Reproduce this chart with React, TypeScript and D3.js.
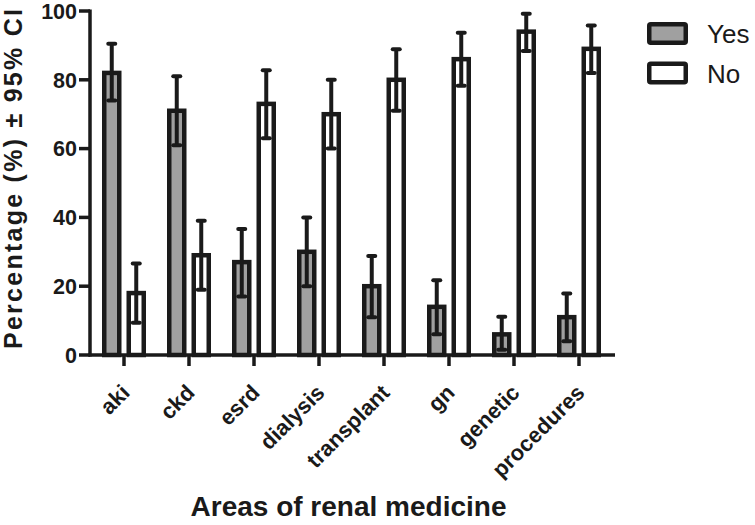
import React from "react";
import * as d3 from "d3";

const categories = ["aki", "ckd", "esrd", "dialysis", "transplant", "gn", "genetic", "procedures"];
const groups = ["Yes", "No"];
const yesValues = [82, 71, 27, 30, 20, 14, 6, 11];
const yesLower = [74, 61, 17, 20, 11, 6, 1.5, 4];
const yesUpper = [90.5, 81, 36.6, 40, 28.8, 21.7, 11.1, 17.9];
const noValues = [18, 29, 73, 70, 80, 86, 94, 89];
const noLower = [9.4, 19, 63, 60, 71, 78.3, 88.4, 82];
const noUpper = [26.6, 39, 82.8, 80, 88.9, 93.7, 99.2, 95.8];
const yTicks = [0, 20, 40, 60, 80, 100];

const W = 755, H = 525;
const ink = "#1a1a1a";
const gray = "#a0a0a0";
const font = "'Liberation Sans', Arial, sans-serif";

export default function App() {
  const y = d3.scaleLinear().domain([0, 100]).range([355, 11]);
  const x0 = d3.scaleBand().domain(categories).range([91.5, 611.5]);
  const x1 = d3.scaleBand().domain(groups).range([-24.5, 24.5]);
  const barW = 15;
  const capW = 7;

  const series = [
    { key: "Yes", fill: gray, values: yesValues, lo: yesLower, hi: yesUpper },
    { key: "No", fill: "#fff", values: noValues, lo: noLower, hi: noUpper },
  ];

  return (
    <svg width={W} height={H} style={{ display: "block", position: "absolute", left: 0, top: 0 }} fontFamily={font}>
      {/* bars + error bars */}
      {series.map((s) =>
        categories.map((c, i) => {
          const cx = x0(c)! + x0.bandwidth() / 2 + x1(s.key)! + x1.bandwidth() / 2;
          return (
            <g key={s.key + c}>
              <rect x={cx - barW / 2} y={y(s.values[i])} width={barW} height={y(0) - y(s.values[i])}
                fill={s.fill} stroke={ink} strokeWidth={4.5} />
              <line x1={cx} x2={cx} y1={y(s.lo[i])} y2={y(s.hi[i])} stroke={ink} strokeWidth={4} />
              <line x1={cx - capW / 2} x2={cx + capW / 2} y1={y(s.hi[i])} y2={y(s.hi[i])}
                stroke={ink} strokeWidth={4} strokeLinecap="round" />
              <line x1={cx - capW / 2} x2={cx + capW / 2} y1={y(s.lo[i])} y2={y(s.lo[i])}
                stroke={ink} strokeWidth={4} strokeLinecap="round" />
            </g>
          );
        })
      )}

      {/* y axis */}
      <line x1={90} x2={90} y1={y(100) - 1.5} y2={y(0) + 1.5} stroke={ink} strokeWidth={3.5} />
      {yTicks.map((t) => (
        <g key={t}>
          <line x1={79} x2={90} y1={y(t)} y2={y(t)} stroke={ink} strokeWidth={3.5} />
          <text x={77} y={y(t) + 7.8} textAnchor="end" fontSize={21.5} fontWeight="bold" fill={ink}>{t}</text>
        </g>
      ))}
      <text transform={`translate(22,179) rotate(-90)`} textAnchor="middle"
        fontSize={25} fontWeight="bold" fill={ink} textLength={340} lengthAdjust="spacing">Percentage (%) ± 95% CI</text>

      {/* x axis */}
      <line x1={88.5} x2={615} y1={y(0)} y2={y(0)} stroke={ink} strokeWidth={3.5} />
      {categories.map((c) => {
        const cx = x0(c)! + x0.bandwidth() / 2;
        return (
          <g key={c}>
            <line x1={cx} x2={cx} y1={y(0)} y2={y(0) + 11} stroke={ink} strokeWidth={3.5} />
            <text transform={`translate(${cx + 7},394) rotate(-45)`} textAnchor="end"
              fontSize={22} fontWeight="bold" fill={ink}>{c}</text>
          </g>
        );
      })}
      <text x={348.5} y={516} textAnchor="middle" fontSize={28} fontWeight="bold" fill={ink}>Areas of renal medicine</text>

      {/* legend */}
      {series.map((s, i) => (
        <g key={s.key} transform={`translate(0,${i * 39.5})`}>
          <rect x={649.25} y={24.25} width={36.5} height={18.5} fill={s.fill} stroke={ink} strokeWidth={4.5} rx={1.5} />
          <text x={707} y={43} fontSize={26} fill={ink}>{s.key}</text>
        </g>
      ))}
    </svg>
  );
}
